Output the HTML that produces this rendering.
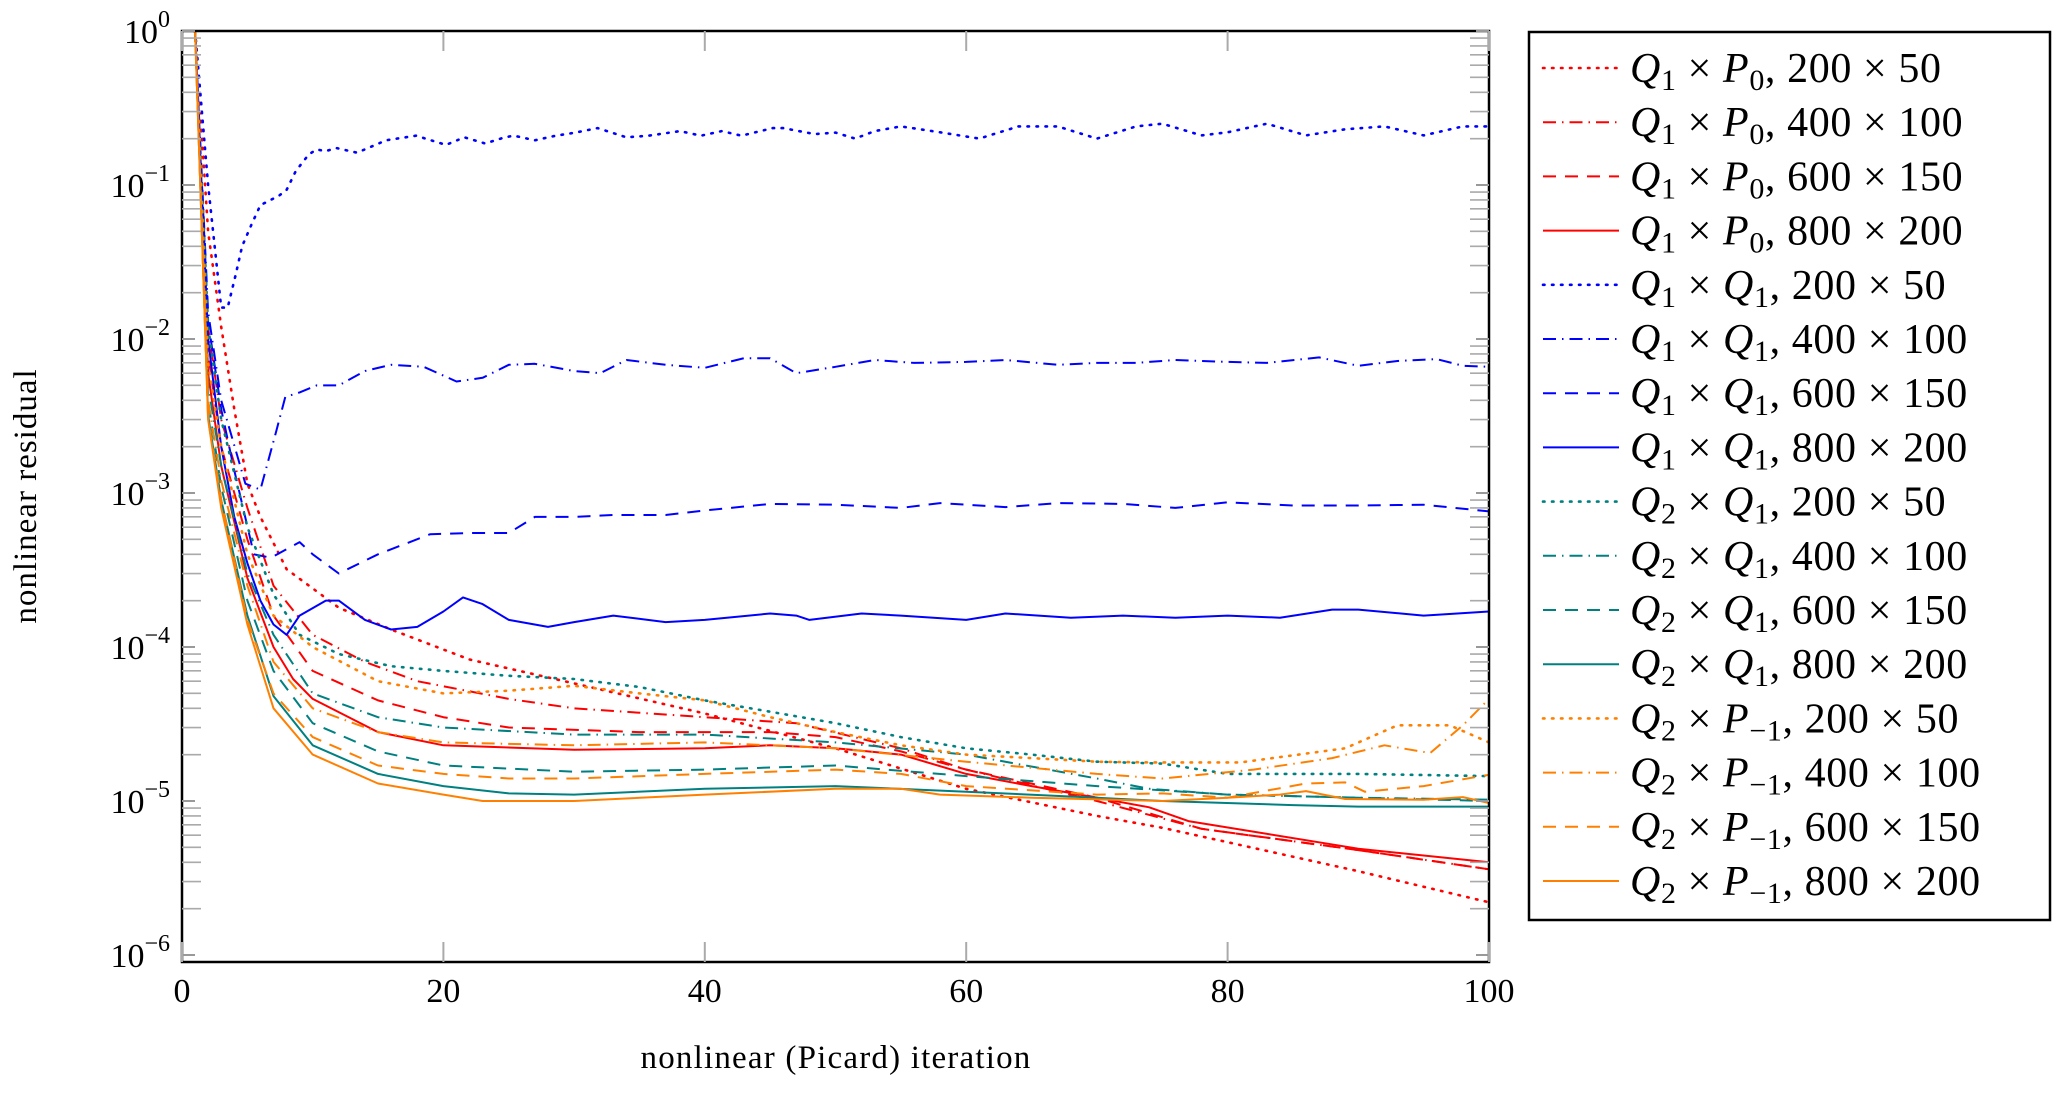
<!DOCTYPE html>
<html><head><meta charset="utf-8"><style>
body{margin:0;background:#fff;}
svg text{font-family:"Liberation Serif",serif;fill:#000;}
</style></head><body>
<svg id="chart" width="2067" height="1093" xmlns="http://www.w3.org/2000/svg">
<rect x="0" y="0" width="2067" height="1093" fill="#fff"/>
<g id="grid"></g>
<g id="series" clip-path="url(#clip)"></g>
<defs><clipPath id="clip"><rect x="182" y="31" width="1307" height="931"/></clipPath></defs>
<rect x="182" y="31" width="1307" height="931" fill="none" stroke="#000" stroke-width="2.5"/>
<g id="ticks"></g>
<text x="0" y="0" font-size="33" letter-spacing="1" text-anchor="middle" transform="translate(36,496) rotate(-90)">nonlinear residual</text>
<text x="836" y="1068" font-size="33" letter-spacing="1.2" text-anchor="middle">nonlinear (Picard) iteration</text>
<rect x="1529" y="32" width="521" height="888" fill="#fff" stroke="#000" stroke-width="2.5"/>
<g id="legend"></g>
</svg>
<script>
const RED="#ff0000",BLUE="#0000ff",TEAL="#008080",ORANGE="#ff8000";
const xTicks=[0,20,40,60,80,100];
const yTickExp=[0,-1,-2,-3,-4,-5,-6];
// data
const x_q1p0_200=[1,2,3,4,5,6,8,10,12,16,22,30,40,50,60,70,75,80,90,100];
const y_q1p0_200=[1,0.05,1.2e-2,3.5e-3,1.15e-3,7e-4,3.2e-4,2.4e-4,1.8e-4,1.3e-4,8.3e-5,5.8e-5,3.7e-5,2.2e-5,1.2e-5,8e-6,6.7e-6,5.4e-6,3.5e-6,2.2e-6];
const x_q1p0_400=[1,2,3,5,7,10,14,18,25,30,40,47,55,60,70,78,90,100];
const y_q1p0_400=[1,1.2e-2,3e-3,8e-4,2.5e-4,1.2e-4,8e-5,6e-5,4.6e-5,4e-5,3.5e-5,3.2e-5,2.2e-5,1.6e-5,1e-5,6.6e-6,4.8e-6,3.6e-6];
const x_q1p0_600=[1,2,3,5,7,10,15,20,25,35,45,50,55,60,70,78,90,100];
const y_q1p0_600=[1,8e-3,2e-3,5e-4,1.6e-4,7e-5,4.5e-5,3.5e-5,3e-5,2.8e-5,2.8e-5,2.6e-5,2.1e-5,1.6e-5,1.05e-5,6.6e-6,4.8e-6,3.6e-6];
const x_q1p0_800=[1,2,3,5,7,8.5,10,15,20,30,40,45,50,55,60,65,70,74,77,90,100];
const y_q1p0_800=[1,6e-3,1.5e-3,2.8e-4,1e-4,6.2e-5,4.6e-5,2.8e-5,2.3e-5,2.15e-5,2.2e-5,2.3e-5,2.2e-5,2e-5,1.5e-5,1.25e-5,1.05e-5,9.1e-6,7.4e-6,4.9e-6,4e-6];
const x_q1q1_200=[1,2,3,3.5,4.1,4.6,5.3,6,7.4,8,8.7,9.7,10.3,11,11.8,13.4,14.8,15.6,17.9,20.2,21.6,23.2,24.7,25.4,27,28.6,30.1,31.8,34,35.7,38.1,39.7,41.3,42.8,45.2,46,48.4,50,51.5,53,55,58,61,64,67,70,73,75,78,80,83,86,89,92,95,98,100];
const y_q1q1_200=[1,0.1,1.6e-2,1.6e-2,2.6e-2,4e-2,5.5e-2,7.4e-2,8.5e-2,9.3e-2,0.123,0.158,0.17,0.166,0.174,0.162,0.182,0.195,0.209,0.182,0.204,0.186,0.204,0.209,0.195,0.209,0.219,0.234,0.204,0.209,0.224,0.209,0.224,0.209,0.234,0.234,0.214,0.219,0.2,0.224,0.24,0.22,0.2,0.24,0.24,0.2,0.24,0.25,0.21,0.22,0.25,0.21,0.23,0.24,0.21,0.24,0.24];
const x_q1q1_400=[1,2,3,4.85,6,7.2,7.9,9,10.3,12,14,16,18.5,21,23,25,27,30,32,34,37,40,43,45,47,50,53,56,60,63,67,70,73,76,80,83,87,90,93,96,98,100];
const y_q1q1_400=[1,1.5e-2,4e-3,1.15e-3,1.05e-3,2.5e-3,4.2e-3,4.5e-3,5e-3,5e-3,6.2e-3,6.8e-3,6.6e-3,5.3e-3,5.6e-3,6.8e-3,6.9e-3,6.2e-3,6e-3,7.3e-3,6.8e-3,6.5e-3,7.5e-3,7.5e-3,6e-3,6.6e-3,7.3e-3,7e-3,7.1e-3,7.3e-3,6.8e-3,7e-3,7e-3,7.3e-3,7.1e-3,7e-3,7.6e-3,6.7e-3,7.2e-3,7.4e-3,6.7e-3,6.6e-3];
const x_q1q1_600=[1,2,3,4,5.5,6.8,9,10,12,15,19,22,25,27,30,33,37,40,45,50,55,58,63,67,72,76,80,85,90,95,100];
const y_q1q1_600=[1,1.3e-2,3.5e-3,1.4e-3,4e-4,3.8e-4,4.8e-4,4e-4,3e-4,4e-4,5.4e-4,5.5e-4,5.5e-4,7e-4,7e-4,7.2e-4,7.2e-4,7.7e-4,8.5e-4,8.4e-4,8e-4,8.6e-4,8.1e-4,8.6e-4,8.5e-4,8e-4,8.7e-4,8.3e-4,8.3e-4,8.4e-4,7.6e-4];
const x_q1q1_800=[1,2,3,4,5,6,7,8,9,11,12,14,16,18,20,21.5,23,25,28,30,33,37,40,45,47,48,52,55,60,63,68,72,76,80,84,88,90,95,100];
const y_q1q1_800=[1,1e-2,2e-3,7e-4,3.5e-4,2e-4,1.4e-4,1.2e-4,1.6e-4,2e-4,2e-4,1.5e-4,1.3e-4,1.35e-4,1.7e-4,2.1e-4,1.9e-4,1.5e-4,1.35e-4,1.45e-4,1.6e-4,1.45e-4,1.5e-4,1.65e-4,1.6e-4,1.5e-4,1.65e-4,1.6e-4,1.5e-4,1.65e-4,1.55e-4,1.6e-4,1.55e-4,1.6e-4,1.55e-4,1.75e-4,1.75e-4,1.6e-4,1.7e-4];
const x_q2q1_200=[1,2,3,5,7,9,12,16,20,25,30,35,40,45,50,55,60,65,70,75,80,90,100];
const y_q2q1_200=[1,1.2e-2,3e-3,6e-4,2.2e-4,1.2e-4,9e-5,7.5e-5,7e-5,6.5e-5,6.2e-5,5.5e-5,4.5e-5,3.8e-5,3.2e-5,2.6e-5,2.2e-5,2e-5,1.8e-5,1.75e-5,1.5e-5,1.5e-5,1.45e-5];
const x_q2q1_400=[1,2,3,5,7,10,15,20,30,40,50,60,70,74,80,90,100];
const y_q2q1_400=[1,5e-3,1.5e-3,3e-4,1.2e-4,5e-5,3.5e-5,3e-5,2.7e-5,2.7e-5,2.4e-5,2e-5,1.4e-5,1.2e-5,1.1e-5,1.05e-5,1.02e-5];
const x_q2q1_600=[1,2,3,5,7,10,15,20,30,40,50,60,70,80,90,100];
const y_q2q1_600=[1,4e-3,1.1e-3,2e-4,7e-5,3.2e-5,2.1e-5,1.7e-5,1.55e-5,1.6e-5,1.7e-5,1.45e-5,1.25e-5,1.1e-5,1.05e-5,1e-5];
const x_q2q1_800=[1,2,3,5,7,10,15,20,25,30,40,50,60,70,75,85,90,100];
const y_q2q1_800=[1,3.2e-3,9e-4,1.6e-4,4.8e-5,2.3e-5,1.5e-5,1.25e-5,1.12e-5,1.1e-5,1.2e-5,1.25e-5,1.15e-5,1.05e-5,1e-5,9.4e-6,9.2e-6,9.2e-6];
const x_q2pm_200=[1,2,3,5,7,10,15,20,25,30,35,40,45,50,55,60,70,74,81,89,93,97,100];
const y_q2pm_200=[1,7e-3,2e-3,4e-4,1.6e-4,1e-4,6e-5,5e-5,5.2e-5,5.6e-5,5e-5,4.5e-5,3.5e-5,2.8e-5,2.3e-5,2e-5,1.8e-5,1.78e-5,1.78e-5,2.2e-5,3.1e-5,3.1e-5,2.4e-5];
const x_q2pm_400=[1,2,3,5,7,10,15,20,30,40,50,60,70,75,82,88,92,95.5,98,100];
const y_q2pm_400=[1,4e-3,1.2e-3,2.5e-4,8e-5,4e-5,2.8e-5,2.4e-5,2.3e-5,2.4e-5,2.2e-5,1.8e-5,1.5e-5,1.4e-5,1.6e-5,1.9e-5,2.3e-5,2.05e-5,3.1e-5,4.6e-5];
const x_q2pm_600=[1,2,3,5,7,10,15,20,25,30,40,50,55,60,70,75,80,86,89,90.5,95,100];
const y_q2pm_600=[1,3e-3,9e-4,1.5e-4,5e-5,2.6e-5,1.7e-5,1.5e-5,1.4e-5,1.4e-5,1.5e-5,1.6e-5,1.5e-5,1.25e-5,1.1e-5,1.12e-5,1.05e-5,1.3e-5,1.32e-5,1.15e-5,1.25e-5,1.48e-5];
const x_q2pm_800=[1,2,3,5,7,10,15,20,23,30,40,50,55,58,65,75,80,84,86,89,95,98,100];
const y_q2pm_800=[1,3e-3,8e-4,1.4e-4,4e-5,2e-5,1.3e-5,1.1e-5,1e-5,1e-5,1.1e-5,1.2e-5,1.2e-5,1.1e-5,1.05e-5,1e-5,1.05e-5,1.1e-5,1.16e-5,1.03e-5,1.02e-5,1.06e-5,9.7e-6];

const DOT="1.5 7.5",DASHDOT="13 6 1.5 6",DASH="13 9",SOLID="none";
const series=[
 {name:"q1p0-200",X:x_q1p0_200,Y:y_q1p0_200,c:RED,d:DOT,el:"P",sub:"0",g:"200 × 50"},
 {name:"q1p0-400",X:x_q1p0_400,Y:y_q1p0_400,c:RED,d:DASHDOT,el:"P",sub:"0",g:"400 × 100"},
 {name:"q1p0-600",X:x_q1p0_600,Y:y_q1p0_600,c:RED,d:DASH,el:"P",sub:"0",g:"600 × 150"},
 {name:"q1p0-800",X:x_q1p0_800,Y:y_q1p0_800,c:RED,d:SOLID,el:"P",sub:"0",g:"800 × 200"},
 {name:"q1q1-200",X:x_q1q1_200,Y:y_q1q1_200,c:BLUE,d:DOT,el:"Q",sub:"1",g:"200 × 50"},
 {name:"q1q1-400",X:x_q1q1_400,Y:y_q1q1_400,c:BLUE,d:DASHDOT,el:"Q",sub:"1",g:"400 × 100"},
 {name:"q1q1-600",X:x_q1q1_600,Y:y_q1q1_600,c:BLUE,d:DASH,el:"Q",sub:"1",g:"600 × 150"},
 {name:"q1q1-800",X:x_q1q1_800,Y:y_q1q1_800,c:BLUE,d:SOLID,el:"Q",sub:"1",g:"800 × 200"},
 {name:"q2q1-200",X:x_q2q1_200,Y:y_q2q1_200,c:TEAL,d:DOT,el:"Q",sub:"1",g:"200 × 50",v:"2"},
 {name:"q2q1-400",X:x_q2q1_400,Y:y_q2q1_400,c:TEAL,d:DASHDOT,el:"Q",sub:"1",g:"400 × 100",v:"2"},
 {name:"q2q1-600",X:x_q2q1_600,Y:y_q2q1_600,c:TEAL,d:DASH,el:"Q",sub:"1",g:"600 × 150",v:"2"},
 {name:"q2q1-800",X:x_q2q1_800,Y:y_q2q1_800,c:TEAL,d:SOLID,el:"Q",sub:"1",g:"800 × 200",v:"2"},
 {name:"q2pm1-200",X:x_q2pm_200,Y:y_q2pm_200,c:ORANGE,d:DOT,el:"P",sub:"−1",g:"200 × 50",v:"2"},
 {name:"q2pm1-400",X:x_q2pm_400,Y:y_q2pm_400,c:ORANGE,d:DASHDOT,el:"P",sub:"−1",g:"400 × 100",v:"2"},
 {name:"q2pm1-600",X:x_q2pm_600,Y:y_q2pm_600,c:ORANGE,d:DASH,el:"P",sub:"−1",g:"600 × 150",v:"2"},
 {name:"q2pm1-800",X:x_q2pm_800,Y:y_q2pm_800,c:ORANGE,d:SOLID,el:"P",sub:"−1",g:"800 × 200",v:"2"}
];
const L=182,R=1489,T=31,DEC=154,B=962;
function sx(v){return L+(v-0)/100*(R-L);}
function sy(v){return T-Math.log10(v)*DEC;}
const NS="http://www.w3.org/2000/svg";
function mk(t,a){const e=document.createElementNS(NS,t);for(const k in a)e.setAttribute(k,a[k]);return e;}
const tk=document.getElementById("ticks");
yTickExp.forEach(function(p){
 const y=sy(Math.pow(10,p));
 const a=mk("line",{x1:L,x2:L+13,y1:y,y2:y,stroke:"#999","stroke-width":2});
 
 
 tk.appendChild(a);
 const b=mk("line",{x1:R-13,x2:R,y1:y,y2:y,stroke:"#999","stroke-width":2});
 
 
 tk.appendChild(b);
 const t=mk("text",{x:L-12,y:y+12,"font-size":34,"text-anchor":"end"});
 
 
 t.textContent="10";
 const s=mk("tspan",{dy:-16,"font-size":24});
 s.textContent=(p<0?"−":"")+Math.abs(p);
 t.appendChild(s);tk.appendChild(t);
 if(p>-6){for(let m=2;m<=9;m++){const ym=sy(m*Math.pow(10,p-1));
  const c=mk("line",{x1:L,x2:L+19,y1:ym,y2:ym,stroke:"#aaa","stroke-width":1.6});
  
  
  tk.appendChild(c);
  const d=mk("line",{x1:R-19,x2:R,y1:ym,y2:ym,stroke:"#aaa","stroke-width":1.6});
  
  
  tk.appendChild(d);}}
});
xTicks.forEach(function(v){
 const x=sx(v);
 const a=mk("line",{x1:x,x2:x,y1:B-20,y2:B,stroke:"#aaa","stroke-width":2});
 
 
 tk.appendChild(a);
 const b=mk("line",{x1:x,x2:x,y1:T,y2:T+20,stroke:"#aaa","stroke-width":2});
 
 
 tk.appendChild(b);
 const t=mk("text",{x:x,y:1002,"font-size":34,"text-anchor":"middle"});
 
 
 t.textContent=v;tk.appendChild(t);
});
const sg=document.getElementById("series"),lg=document.getElementById("legend");
series.forEach(function(s,i){
 const pts=s.X.map(function(x,j){return sx(x).toFixed(1)+","+sy(s.Y[j]).toFixed(1);}).join(" ");
 const a={points:pts,fill:"none",stroke:s.c,"stroke-width":2,"stroke-linejoin":"round"};
 if(s.d!=="none"){a["stroke-dasharray"]=s.d;}
 if(s.d===DOT){a["stroke-linecap"]="round";a["stroke-width"]=2.6;}
 const p=mk("polyline",a);
 
 
 sg.appendChild(p);
 const y=68+i*54.2;
 const la={x1:1543,x2:1619,y1:y,y2:y,stroke:s.c,"stroke-width":2};
 if(s.d!=="none"){la["stroke-dasharray"]=s.d;}
 if(s.d===DOT){la["stroke-linecap"]="round";la["stroke-width"]=2.6;}
 const ln=mk("line",la);
 
 
 lg.appendChild(ln);
 const t=mk("text",{x:1630,y:y+14,"font-size":42,"letter-spacing":"0.6"});
 
 
 const parts=[["Q",1,""],[s.v||"1",0,"sub"],[" × ",0,""],[s.el,1,""],[s.sub,0,"sub"],[", "+s.g,0,""]];
 parts.forEach(function(q,k){const sp=mk("tspan",{});
  if(q[1])sp.setAttribute("font-style","italic");
  if(q[2]==="sub"){sp.setAttribute("font-size","30");sp.setAttribute("dy","8");}
  else if(k>0){sp.setAttribute("dy", (parts[k-1][2]==="sub")?"-8":"0");}
  sp.textContent=q[0];t.appendChild(sp);});
 lg.appendChild(t);
});
</script>
</body></html>
